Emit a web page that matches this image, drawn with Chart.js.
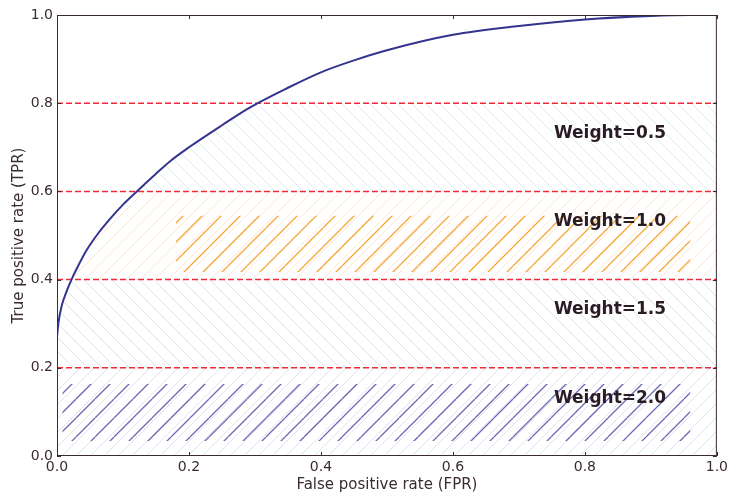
<!DOCTYPE html>
<html>
<head>
<meta charset="utf-8">
<script src="https://cdn.jsdelivr.net/npm/chart.js@4.4.0/dist/chart.umd.min.js"></script>
<style>
  html, body { margin: 0; padding: 0; background: #fff; }
  #wrap { width: 731px; height: 495px; }
</style>
</head>
<body>
<div id="wrap"><canvas id="rocChart" width="731" height="495"></canvas></div>
<script>
// ROC curve samples (false positive rate -> true positive rate)
const fpr = [0, 0.002, 0.007, 0.015, 0.022, 0.03, 0.045, 0.06, 0.08, 0.1, 0.121, 0.15, 0.171, 0.2, 0.25, 0.292, 0.35, 0.4, 0.45, 0.5, 0.6, 0.7, 0.8, 0.9, 0.96, 1.0];
const tpr = [0.27, 0.3, 0.34, 0.375, 0.4, 0.425, 0.467, 0.5, 0.537, 0.57, 0.6, 0.64, 0.668, 0.7, 0.75, 0.79, 0.835, 0.87, 0.897, 0.92, 0.955, 0.975, 0.99, 0.998, 1.0, 1.0];

// weight thresholds and their labels
const thresholds = [0.2, 0.4, 0.6, 0.8];
const weightLabels = ['Weight=0.5', 'Weight=1.0', 'Weight=1.5', 'Weight=2.0'];
const labelX = [0.753, 0.753, 0.753, 0.753];
const labelY = [0.732, 0.532, 0.331, 0.131];

// shaded bands under the curve: [low, high]
const bandLow = [0.0, 0.2, 0.4, 0.6];
const bandHigh = [0.2, 0.4, 0.6, 0.8];

// highlighted boxes: x from/to, y from/to
const orangeBoxX = [0.18, 0.96];
const orangeBoxY = [0.417, 0.545];
const blueBoxX = [0.008, 0.96];
const blueBoxY = [0.034, 0.163];

const axisTicks = [0, 0.2, 0.4, 0.6, 0.8, 1.0];

const textColor = '#3a2b33';
const fontFamily = '"DejaVu Sans", sans-serif';

const canvas = document.getElementById('rocChart');
const ctx = canvas.getContext('2d');

// diagonal hatch tile -> pattern
function hatch(color, spacing, dir, width) {
  const c = document.createElement('canvas');
  c.width = spacing;
  c.height = spacing;
  const g = c.getContext('2d');
  g.strokeStyle = color;
  g.lineWidth = width;
  g.beginPath();
  for (let k = -1; k <= 1; k++) {
    if (dir === '/') {
      g.moveTo(k * spacing, spacing);
      g.lineTo(k * spacing + spacing, 0);
    } else {
      g.moveTo(k * spacing, 0);
      g.lineTo(k * spacing + spacing, spacing);
    }
  }
  g.stroke();
  return ctx.createPattern(c, 'repeat');
}

const bandStyles = [
  hatch('rgba(190,190,215,0.45)', 14, '/', 1),
  hatch('rgba(190,190,200,0.45)', 14, '\\', 1),
  hatch('rgba(250,190,130,0.35)', 14, '/', 1),
  hatch('rgba(160,210,225,0.40)', 14, '\\', 1)
];

const curvePoints = fpr.map((x, i) => ({ x, y: tpr[i] }));

const datasets = [];

datasets.push({
  label: 'ROC',
  data: curvePoints,
  borderColor: '#34348f',
  borderWidth: 2,
  pointRadius: 0,
  cubicInterpolationMode: 'monotone',
  fill: false
});

thresholds.forEach(t => {
  datasets.push({
    data: [{ x: 0, y: t }, { x: 1, y: t }],
    borderColor: '#f02b37',
    borderWidth: 1.5,
    borderDash: [6, 3],
    pointRadius: 0,
    fill: false
  });
});

datasets.push({
  data: [{ x: orangeBoxX[0], y: orangeBoxY[1] }, { x: orangeBoxX[1], y: orangeBoxY[1] }],
  borderWidth: 0,
  pointRadius: 0,
  backgroundColor: hatch('#f6a634', 19, '/', 1.3),
  fill: { value: orangeBoxY[0] }
});

datasets.push({
  data: [{ x: blueBoxX[0], y: blueBoxY[1] }, { x: blueBoxX[1], y: blueBoxY[1] }],
  borderWidth: 0,
  pointRadius: 0,
  backgroundColor: hatch('#6a68b8', 19, '/', 1.3),
  fill: { value: blueBoxY[0] }
});

bandLow.forEach((lo, b) => {
  const hi = bandHigh[b];
  datasets.push({
    data: curvePoints.map(p => ({ x: p.x, y: Math.min(Math.max(p.y, lo), hi) })),
    borderWidth: 0,
    pointRadius: 0,
    backgroundColor: bandStyles[b],
    fill: { value: lo }
  });
});

// frame, inward ticks and weight labels
const decorPlugin = {
  id: 'decor',
  afterDatasetsDraw(chart) {
    const { ctx, chartArea: { left, right, top, bottom }, scales: { x, y } } = chart;
    ctx.save();
    ctx.strokeStyle = textColor;
    ctx.lineWidth = 1;
    ctx.strokeRect(left + 0.5, top + 0.5, right - left - 1, bottom - top - 1);
    ctx.beginPath();
    axisTicks.forEach(v => {
      const px = Math.round(x.getPixelForValue(v)) + 0.5;
      const py = Math.round(y.getPixelForValue(v)) + 0.5;
      ctx.moveTo(px, bottom); ctx.lineTo(px, bottom - 4);
      ctx.moveTo(px, top); ctx.lineTo(px, top + 4);
      ctx.moveTo(left, py); ctx.lineTo(left + 4, py);
      ctx.moveTo(right, py); ctx.lineTo(right - 4, py);
    });
    ctx.stroke();

    ctx.fillStyle = '#2a1c24';
    ctx.font = 'bold 17px ' + fontFamily;
    ctx.textAlign = 'left';
    ctx.textBaseline = 'middle';
    weightLabels.forEach((t, i) => {
      ctx.fillText(t, x.getPixelForValue(labelX[i]), y.getPixelForValue(labelY[i]));
    });
    ctx.restore();
  }
};

new Chart(ctx, {
  type: 'line',
  data: { datasets },
  options: {
    responsive: false,
    animation: false,
    layout: { padding: { top: 15, right: 14, left: 0, bottom: 0 } },
    plugins: { legend: { display: false }, tooltip: { enabled: false } },
    scales: {
      x: {
        type: 'linear',
        min: 0,
        max: 1,
        afterBuildTicks: s => { s.ticks = axisTicks.map(v => ({ value: v })); },
        afterFit: s => { s.height = 39; },
        ticks: {
          color: textColor,
          font: { size: 14, family: fontFamily },
          padding: 3,
          maxRotation: 0,
          callback: v => v.toFixed(1)
        },
        grid: { display: false, drawTicks: false },
        border: { display: false },
        title: {
          display: true,
          text: 'False positive rate (FPR)',
          color: textColor,
          font: { size: 15, family: fontFamily },
          padding: { top: 0, bottom: 1 }
        }
      },
      y: {
        type: 'linear',
        min: 0,
        max: 1,
        afterBuildTicks: s => { s.ticks = axisTicks.map(v => ({ value: v })); },
        afterFit: s => { s.width = 57; },
        ticks: {
          color: textColor,
          font: { size: 14, family: fontFamily },
          padding: 4,
          callback: v => v.toFixed(1)
        },
        grid: { display: false, drawTicks: false },
        border: { display: false },
        title: {
          display: true,
          text: 'True positive rate (TPR)',
          color: textColor,
          font: { size: 15, family: fontFamily },
          padding: { top: 10, bottom: 0 }
        }
      }
    }
  },
  plugins: [decorPlugin]
});
</script>
</body>
</html>
